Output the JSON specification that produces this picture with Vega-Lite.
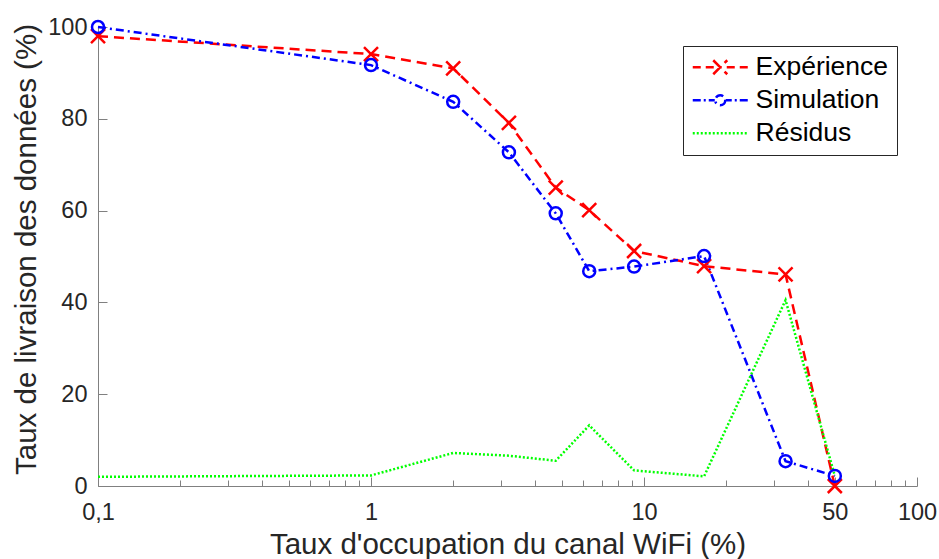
{
  "$schema": "https://vega.github.io/schema/vega-lite/v6.json",
  "width": 819,
  "height": 459,
  "autosize": {"type": "none"},
  "padding": {"left": 98, "top": 27, "right": 22, "bottom": 73},
  "background": "white",
  "config": {
    "view": {"stroke": null},
    "font": "Liberation Sans",
    "axis": {
      "grid": false,
      "domainColor": "#808080",
      "tickColor": "#808080",
      "labelColor": "#262626",
      "labelFont": "Liberation Sans",
      "labelFontSize": 23.5,
      "titleFont": "Liberation Sans",
      "titleFontSize": 29.5,
      "titleFontWeight": "normal",
      "titleColor": "#262626",
      "labelFlush": false,
      "labelOverlap": false
    }
  },
  "data": {
    "values": [
      {"x": 0.1, "y": 98.0, "series": "Expérience"},
      {"x": 1, "y": 94.1, "series": "Expérience"},
      {"x": 2, "y": 91.0, "series": "Expérience"},
      {"x": 3.2, "y": 79.1, "series": "Expérience"},
      {"x": 4.75, "y": 65.0, "series": "Expérience"},
      {"x": 6.3, "y": 60.1, "series": "Expérience"},
      {"x": 9.2, "y": 51.2, "series": "Expérience"},
      {"x": 16.6, "y": 47.9, "series": "Expérience"},
      {"x": 33, "y": 46.1, "series": "Expérience"},
      {"x": 50, "y": 0.0, "series": "Expérience"},
      {"x": 0.1, "y": 100.0, "series": "Simulation"},
      {"x": 1, "y": 91.7, "series": "Simulation"},
      {"x": 2, "y": 83.7, "series": "Simulation"},
      {"x": 3.2, "y": 72.7, "series": "Simulation"},
      {"x": 4.75, "y": 59.4, "series": "Simulation"},
      {"x": 6.3, "y": 46.8, "series": "Simulation"},
      {"x": 9.2, "y": 47.8, "series": "Simulation"},
      {"x": 16.6, "y": 50.1, "series": "Simulation"},
      {"x": 33, "y": 5.4, "series": "Simulation"},
      {"x": 50, "y": 2.2, "series": "Simulation"},
      {"x": 0.1, "y": 2.0, "series": "Résidus"},
      {"x": 1, "y": 2.3, "series": "Résidus"},
      {"x": 2, "y": 7.2, "series": "Résidus"},
      {"x": 3.2, "y": 6.6, "series": "Résidus"},
      {"x": 4.75, "y": 5.5, "series": "Résidus"},
      {"x": 6.3, "y": 13.2, "series": "Résidus"},
      {"x": 9.2, "y": 3.4, "series": "Résidus"},
      {"x": 16.6, "y": 2.1, "series": "Résidus"},
      {"x": 33, "y": 40.5, "series": "Résidus"},
      {"x": 50, "y": 2.2, "series": "Résidus"}
    ]
  },
  "encoding": {
    "x": {
      "field": "x",
      "type": "quantitative",
      "scale": {"type": "log", "domain": [0.1, 100]},
      "axis": {
        "title": "Taux d'occupation du canal WiFi (%)",
        "values": [0.1, 0.2, 0.3, 0.4, 0.5, 0.6, 0.7, 0.8, 0.9, 1, 2, 3, 4, 5, 6, 7, 8, 9, 10, 20, 30, 40, 50, 60, 70, 80, 90, 100],
        "labelExpr": "datum.value == 0.1 ? '0,1' : (datum.value == 1 || datum.value == 10 || datum.value == 50 || datum.value == 100) ? format(datum.value, 'd') : ''",
        "tickSize": {"condition": {"test": "datum.value == 0.1 || datum.value == 1 || datum.value == 10 || datum.value == 50 || datum.value == 100", "value": -9}, "value": -6},
        "labelPadding": 23.5,
        "titleY": 67,
        "titleBaseline": "alphabetic"
      }
    },
    "y": {
      "field": "y",
      "type": "quantitative",
      "scale": {"domain": [0, 100], "nice": false, "zero": false},
      "axis": {
        "title": "Taux de livraison des données (%)",
        "values": [0, 20, 40, 60, 80, 100],
        "tickSize": -9,
        "labelPadding": 20,
        "titleX": -63,
        "titleY": 222,
        "titleAngle": -90,
        "titleAlign": "center",
        "titleBaseline": "alphabetic"
      }
    },
    "color": {
      "field": "series",
      "type": "nominal",
      "scale": {"domain": ["Expérience", "Simulation", "Résidus"], "range": ["#ff0000", "#0000ff", "#00ff00"]},
      "legend": {
        "title": null,
        "orient": "none",
        "legendX": 585,
        "legendY": 19,
        "padding": 8,
        "rowPadding": 6,
        "labelOffset": 38,
        "symbolSize": 4,
        "symbolStrokeWidth": 2.5,
        "symbolType": {"expr": "datum.value === 'Expérience' ? 'M-11.5,0L-3.5,0M1.5,0L9.5,0M14.5,0L17.5,0M22.5,0L30.5,0M35.5,0L43.5,0M9,-7L23,7M9,7L23,-7' : datum.value === 'Simulation' ? 'M-11.5,0L-3.5,0M-0.5,0L1.5,0M4.5,0L10.5,0M21.5,0L27.5,0M30.5,0L32.5,0M35.5,0L43.5,0M21,0A5,5 0 1,1 11,0A5,5 0 1,1 21,0' : 'M-11.5,0L-9.5,0M-7.5,0L-5.5,0M-3.5,0L-1.5,0M0.5,0L2.5,0M4.5,0L6.5,0M8.5,0L10.5,0M12.5,0L14.5,0M16.5,0L18.5,0M20.5,0L22.5,0M24.5,0L26.5,0M28.5,0L30.5,0M32.5,0L34.5,0M36.5,0L38.5,0M40.5,0L42.5,0'"},
        "labelFont": "Liberation Sans",
        "labelFontSize": 26.5,
        "labelColor": "#000000",
        "strokeColor": "#262626",
        "fillColor": "#ffffff"
      }
    }
  },
  "layer": [
    {
      "mark": {"type": "line", "strokeWidth": 2.5, "clip": false},
      "encoding": {
        "strokeDash": {
          "field": "series",
          "type": "nominal",
          "scale": {"domain": ["Expérience", "Simulation", "Résidus"], "range": [[10, 6], [8, 4, 2, 4], [2, 2]]},
          "legend": null
        }
      }
    },
    {
      "transform": [{"filter": "datum.series !== 'Résidus'"}],
      "mark": {"type": "point", "filled": false, "strokeWidth": 2.5, "opacity": 1, "clip": false},
      "encoding": {
        "shape": {
          "field": "series",
          "type": "nominal",
          "scale": {"domain": ["Expérience", "Simulation"], "range": ["M-1,-1L1,1M1,-1L-1,1", "circle"]},
          "legend": null
        },
        "size": {
          "field": "series",
          "type": "nominal",
          "scale": {"domain": ["Expérience", "Simulation"], "range": [196, 144]},
          "legend": null
        }
      }
    }
  ]
}
